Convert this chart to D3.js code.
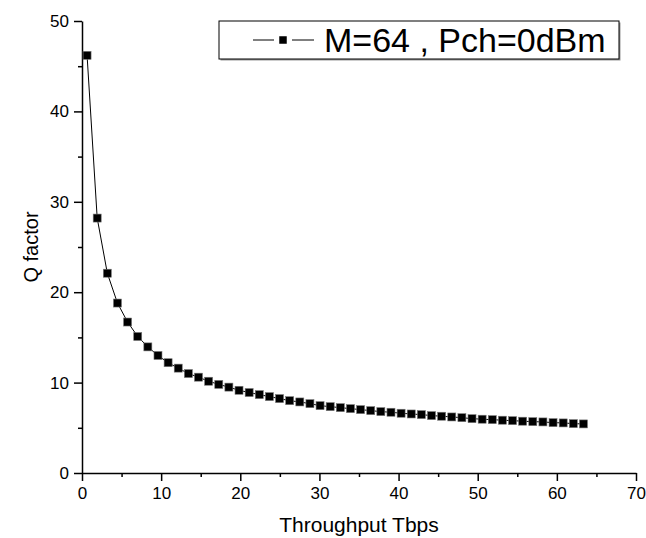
<!DOCTYPE html>
<html>
<head>
<meta charset="utf-8">
<script src="https://cdn.jsdelivr.net/npm/d3@7"></script>
<style>
  html, body { margin: 0; padding: 0; background: #fff; }
  svg { display: block; font-family: Arial, "Liberation Sans", sans-serif; }
</style>
</head>
<body>
<svg id="chart" width="646" height="538"></svg>
<script>
// Throughput (Tbps) for each simulated case
const throughput = [
  0.64, 1.92, 3.20, 4.48, 5.76, 7.04, 8.32, 9.60, 10.88, 12.16,
  13.44, 14.72, 16.00, 17.28, 18.56, 19.84, 21.12, 22.40, 23.68, 24.96,
  26.24, 27.52, 28.80, 30.08, 31.36, 32.64, 33.92, 35.20, 36.48, 37.76,
  39.04, 40.32, 41.60, 42.88, 44.16, 45.44, 46.72, 48.00, 49.28, 50.56,
  51.84, 53.12, 54.40, 55.68, 56.96, 58.24, 59.52, 60.80, 62.08, 63.36
];
// Q factor for M=64, Pch=0dBm
const qFactor = [
  46.2, 28.2, 22.1, 18.8, 16.7, 15.1, 13.95, 13.0, 12.2, 11.6,
  11.0, 10.6, 10.15, 9.8, 9.5, 9.15, 8.9, 8.67, 8.45, 8.23,
  8.0, 7.86, 7.67, 7.45, 7.34, 7.23, 7.12, 7.01, 6.9, 6.79,
  6.72, 6.61, 6.53, 6.46, 6.35, 6.28, 6.2, 6.12, 6.01, 5.95,
  5.9, 5.84, 5.79, 5.73, 5.68, 5.65, 5.57, 5.54, 5.46, 5.43
];
const xTicks = [0, 10, 20, 30, 40, 50, 60, 70];
const yTicks = [0, 10, 20, 30, 40, 50];
const xMinor = [5, 15, 25, 35, 45, 55, 65];
const yMinor = [5, 15, 25, 35, 45];
const seriesName = "M=64 , Pch=0dBm";
const xTitle = "Throughput Tbps";
const yTitle = "Q factor";

const points = throughput.map((t, i) => ({ x: t, y: qFactor[i] }));

const svg = d3.select("#chart");
const plotLeft = 82, plotRight = 636, plotTop = 21, plotBottom = 473;

const x = d3.scaleLinear().domain([0, 70]).range([plotLeft, plotRight]);
const y = d3.scaleLinear().domain([0, 50]).range([plotBottom, plotTop]);

// minor ticks
svg.append("g").attr("transform", `translate(0,${plotBottom})`)
  .call(d3.axisBottom(x).tickValues(xMinor).tickSize(4).tickFormat(""))
  .call(g => g.select(".domain").remove())
  .call(g => g.selectAll("line").attr("stroke-width", 1.5));
svg.append("g").attr("transform", `translate(${plotLeft},0)`)
  .call(d3.axisLeft(y).tickValues(yMinor).tickSize(4).tickFormat(""))
  .call(g => g.select(".domain").remove())
  .call(g => g.selectAll("line").attr("stroke-width", 1.5));

// major axes
const xAxis = svg.append("g").attr("transform", `translate(0,${plotBottom})`)
  .call(d3.axisBottom(x).tickValues(xTicks).tickSize(8).tickSizeOuter(0).tickPadding(6).tickFormat(d3.format("d")));
const yAxis = svg.append("g").attr("transform", `translate(${plotLeft},0)`)
  .call(d3.axisLeft(y).tickValues(yTicks).tickSize(8).tickSizeOuter(0).tickPadding(5).tickFormat(d3.format("d")));
[xAxis, yAxis].forEach(g => {
  g.select(".domain").attr("stroke-width", 1.5);
  g.selectAll("line").attr("stroke-width", 1.5);
  g.selectAll("text").attr("font-size", 17).attr("fill", "#000")
    .attr("font-family", "Arial, 'Liberation Sans', sans-serif");
});

// axis titles
svg.append("text")
  .attr("x", (plotLeft + plotRight) / 2).attr("y", 532)
  .attr("text-anchor", "middle").attr("font-size", 21)
  .text(xTitle);
svg.append("text")
  .attr("transform", `translate(38,${(plotTop + plotBottom) / 2}) rotate(-90)`)
  .attr("text-anchor", "middle").attr("font-size", 20)
  .text(yTitle);

// series line and square markers
const line = d3.line().x(d => x(d.x)).y(d => y(d.y));
svg.append("path").datum(points)
  .attr("fill", "none").attr("stroke", "#000").attr("stroke-width", 1)
  .attr("d", line);
const ms = 8;
svg.append("g").selectAll("rect").data(points).join("rect")
  .attr("x", d => x(d.x) - ms / 2).attr("y", d => y(d.y) - ms / 2)
  .attr("width", ms).attr("height", ms)
  .attr("fill", "#000").attr("stroke", "#777").attr("stroke-width", 0.6);

// legend
const lg = svg.append("g");
lg.append("rect").attr("x", 220.5).attr("y", 22.5).attr("width", 400).attr("height", 38)
  .attr("fill", "#999");
lg.append("rect").attr("x", 219).attr("y", 21).attr("width", 400).attr("height", 38)
  .attr("fill", "#fff").attr("stroke", "#000").attr("stroke-width", 1);
const ly = 40;
lg.append("line").attr("x1", 253).attr("x2", 274).attr("y1", ly).attr("y2", ly)
  .attr("stroke", "#000").attr("stroke-width", 1);
lg.append("line").attr("x1", 292).attr("x2", 314).attr("y1", ly).attr("y2", ly)
  .attr("stroke", "#000").attr("stroke-width", 1);
lg.append("rect").attr("x", 283 - 7.5 / 2).attr("y", ly - 7.5 / 2)
  .attr("width", 7.5).attr("height", 7.5).attr("fill", "#000");
lg.append("text").attr("x", 324).attr("y", 52)
  .attr("font-size", 34).text(seriesName);
</script>
</body>
</html>
